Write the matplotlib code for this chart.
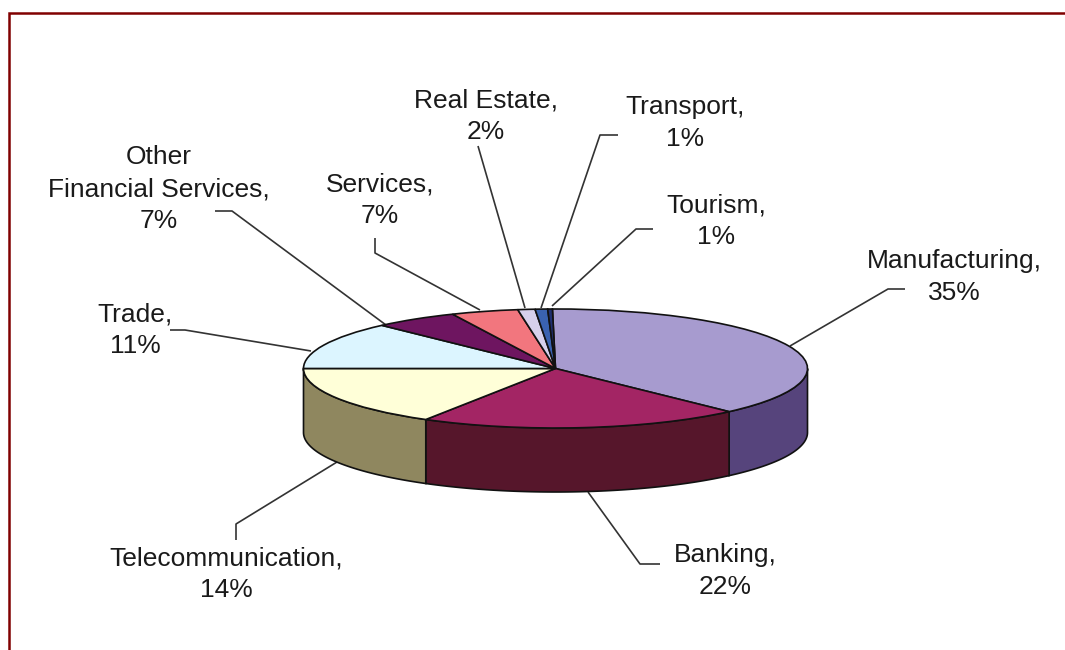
import numpy as np
import matplotlib
matplotlib.use("Agg")
import matplotlib.pyplot as plt

# Category names and printed percentages
categories = ["Manufacturing", "Banking", "Telecommunication", "Trade",
              "Other\nFinancial Services", "Services", "Real Estate", "Transport", "Tourism"]
printed_percent = [35, 22, 14, 11, 7, 7, 2, 1, 1]
# Slice sizes as drawn in the tilted pie (% of the circle)
drawn_share = [38.1, 20.7, 16.4, 12.9, 5.4, 4.3, 1.1, 0.8, 0.3]
top_colors = ["#A79BCF", "#A32564", "#FFFFD8", "#DCF5FF", "#6E1560",
              "#F2767E", "#D7D0EC", "#3A62B0", "#1F2F70"]
side_colors = ["#56447C", "#56162B", "#8F875F", None, None, None, None, None, None]

W, H = 1065, 650
plt.rcParams["font.family"] = ["Liberation Sans", "DejaVu Sans"]
fig = plt.figure(figsize=(W / 100, H / 100), dpi=100)

# Overlay in pixel coordinates for frame, leaders and labels
ov = fig.add_axes([0, 0, 1, 1], zorder=1)
ov.set_xlim(0, W); ov.set_ylim(H, 0); ov.axis("off")

ov.plot([9, 9, W], [H, 13, 13], color="#800000", lw=1.8, solid_joinstyle="miter")

label_pos = [(954, 277), (725, 571), (226, 574), (135, 330), (159, 189),
             (380, 200), (486, 116), (685, 123), (716, 221)]
leaders = [
    [(790, 346), (888, 289), (905, 289)],
    [(588, 492), (640, 564), (660, 564)],
    [(337, 462), (236, 524), (236, 540)],
    [(311, 351), (185, 330), (170, 330)],
    [(386, 325), (232, 211), (215, 211)],
    [(480, 310), (375, 253), (375, 238)],
    [(525, 308), (478, 146), (478, 146)],
    [(541, 308), (600, 135), (618, 135)],
    [(552, 306), (636, 229), (653, 229)],
]
for pts in leaders:
    xs, ys = zip(*pts)
    ov.plot(xs, ys, color="#333333", lw=1.2, solid_capstyle="butt")
for name, pct, (x, y) in zip(categories, printed_percent, label_pos):
    ov.text(x, y, f"{name},\n{pct}%", ha="center", va="center", fontsize=19,
            color="#1a1a1a", linespacing=1.42)

# Pie axes: squashed so the unit circle becomes the top ellipse
cx, cy, rx, ry, depth = 555.5, 368.5, 252, 59.5, 64
pie_ax = fig.add_axes([(cx - rx) / W, 1 - (cy + ry) / H, 2 * rx / W, 2 * ry / H], zorder=2)
pie_ax.patch.set_alpha(0)

start = 90.7
edges = start - np.cumsum([0] + drawn_share) * 3.6
d = depth / ry
for i, col in enumerate(side_colors):
    if col is None:
        continue
    a0, a1 = edges[i], edges[i + 1]
    a0 = min(a0, 0)
    a1 = max(a1, -180)
    t = np.radians(np.linspace(a0, a1, 80))
    x = np.cos(t); y = np.sin(t)
    pie_ax.fill(np.r_[x, x[::-1]], np.r_[y, (y - d)[::-1]], facecolor=col,
                edgecolor="#111111", lw=1.2, clip_on=False)

pie_ax.pie(drawn_share, colors=top_colors, startangle=start, counterclock=False,
           radius=1, wedgeprops=dict(edgecolor="#111111", linewidth=1.2),
           normalize=True, frame=False)
pie_ax.set_aspect("auto")
pie_ax.set_xlim(-1, 1); pie_ax.set_ylim(-1, 1)
pie_ax.axis("off")
for a in pie_ax.patches:
    a.set_clip_on(False)

fig.savefig("out.png", dpi=100)
